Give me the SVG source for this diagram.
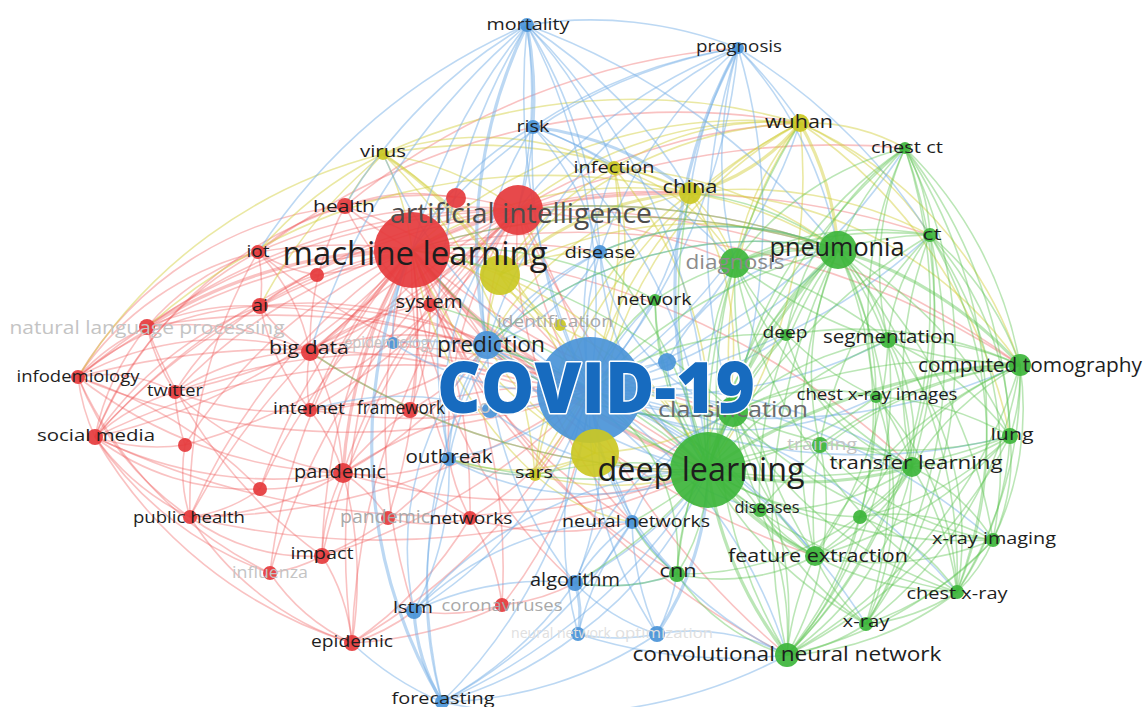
<svg xmlns="http://www.w3.org/2000/svg" width="1148" height="707" viewBox="0 0 1148 707">
<style>
#edges path{fill:none;stroke-width:1.6}
.er path{stroke:#ee5656;stroke-opacity:.36}
.eb path{stroke:#74aee6;stroke-opacity:.48}
.ey path{stroke:#d4cf3e;stroke-opacity:.48}
.eg path{stroke:#5cc452;stroke-opacity:.42}
#edges path.t{stroke-width:3.2}
.r{fill:#e53a3c}.g{fill:#3db53b}.b{fill:#4a94d8}.y{fill:#cbc823}
circle{fill-opacity:.92}
text{font-family:"Open Sans","Liberation Sans",sans-serif;text-anchor:middle;fill:#1e1e1e}
.fa{fill:#4d4d4d}.fb{fill:#6a6a6a}.fc{fill:#8c8c8c}.fd{fill:#a8a8a8}.fe{fill:#c4c4c4}.ff{fill:#e0e0e0}
.cv{font-weight:800;fill:#176bbf;stroke:#fff;stroke-width:3;paint-order:stroke;stroke-linejoin:round}
</style>
<rect width="1148" height="707" fill="#fff"/>

<g id="edges">
<!-- red cluster links -->
<g class="er">
<path d="M412 250A500 500 0 0 1 345 206"/><path d="M412 250A500 500 0 0 0 258 252"/><path d="M412 250A400 400 0 0 1 317 275"/>
<path d="M260 306A400 400 0 0 1 412 250"/><path d="M147 327A500 500 0 0 1 412 250" class="t"/><path d="M78 377A600 600 0 0 1 412 250"/>
<path d="M95 437A600 600 0 0 1 412 250"/><path d="M412 250A600 600 0 0 1 95 437"/><path d="M175 392A500 500 0 0 1 412 250"/>
<path d="M412 250A500 500 0 0 1 310 352" class="t"/><path d="M412 250A500 500 0 0 0 310 410"/><path d="M412 250A500 500 0 0 1 410 410"/>
<path d="M185 445A500 500 0 0 1 412 250"/><path d="M412 250A500 500 0 0 0 343 473" class="t"/><path d="M260 489A600 600 0 0 1 412 250"/>
<path d="M190 517A600 600 0 0 1 412 250"/><path d="M412 250A600 600 0 0 1 388 518"/><path d="M412 250A600 600 0 0 1 470 518"/>
<path d="M322 556A600 600 0 0 1 412 250"/><path d="M270 573A600 600 0 0 1 412 250"/><path d="M412 250A600 600 0 0 1 502 605"/>
<path d="M352 643A700 700 0 0 1 412 250"/><path d="M412 250A500 500 0 0 1 430 305"/><path d="M412 250A400 400 0 0 1 518 210" class="t"/>
<path d="M412 250A500 500 0 0 0 590 390" class="t"/><path d="M412 250A700 700 0 0 0 708 470" class="t"/><path d="M412 250A700 700 0 0 1 838 250"/>
<path d="M412 250A700 700 0 0 0 733 412"/><path d="M412 250A800 800 0 0 1 1020 365"/><path d="M412 250A800 800 0 0 0 787 655"/>
<path d="M412 250A800 800 0 0 0 815 556"/><path d="M412 250A800 800 0 0 1 912 467"/><path d="M412 250A600 600 0 0 1 690 193"/>
<path d="M412 250A600 600 0 0 0 414 611"/><path d="M412 250A500 500 0 0 1 487 345"/><path d="M412 250A500 500 0 0 0 449 459"/>
<path d="M412 250A600 600 0 0 1 600 252"/><path d="M412 250A500 500 0 0 0 632 522"/><path d="M412 250A500 500 0 0 0 575 583"/>
<path d="M412 250A600 600 0 0 0 677 574"/>
<path d="M345 206A300 300 0 0 1 518 210"/><path d="M258 252A500 500 0 0 1 518 210"/><path d="M260 306A500 500 0 0 1 518 210"/>
<path d="M147 327A600 600 0 0 1 518 210"/><path d="M78 377A700 700 0 0 1 518 210"/><path d="M95 437A700 700 0 0 1 518 210"/>
<path d="M518 210A700 700 0 0 1 175 392"/><path d="M518 210A600 600 0 0 1 310 352"/><path d="M343 473A600 600 0 0 1 518 210"/>
<path d="M190 517A700 700 0 0 1 518 210"/><path d="M322 556A700 700 0 0 1 518 210"/><path d="M352 643A700 700 0 0 1 518 210"/>
<path d="M270 573A700 700 0 0 1 518 210"/><path d="M518 210A600 600 0 0 1 310 410"/><path d="M518 210A600 600 0 0 1 185 445"/>
<path d="M518 210A600 600 0 0 0 260 489"/><path d="M518 210A700 700 0 0 0 708 470"/><path d="M518 210A600 600 0 0 1 590 390"/>
<path d="M518 210A700 700 0 0 1 838 250"/><path d="M518 210A500 500 0 0 1 690 193"/><path d="M518 210A600 600 0 0 1 800 123"/>
<path d="M518 210A800 800 0 0 1 930 235"/><path d="M518 210A800 800 0 0 1 905 148"/><path d="M518 210A700 700 0 0 1 735 263"/>
<path d="M518 210A800 800 0 0 0 787 655"/><path d="M518 210A800 800 0 0 1 1020 365"/><path d="M518 210A400 400 0 0 0 632 522"/>
<path d="M518 210A300 300 0 0 0 487 345"/><path d="M518 210A400 400 0 0 0 449 459"/>
<path d="M95 437A200 200 0 0 1 78 377"/><path d="M78 377A200 200 0 0 1 147 327"/><path d="M95 437A250 250 0 0 1 147 327"/>
<path d="M147 327A250 250 0 0 1 258 252"/><path d="M147 327A250 250 0 0 1 260 306"/><path d="M78 377A300 300 0 0 1 258 252"/>
<path d="M78 377A300 300 0 0 1 260 306"/><path d="M78 377A350 350 0 0 1 345 206"/><path d="M95 437A350 350 0 0 1 258 252"/>
<path d="M95 437A400 400 0 0 1 345 206"/><path d="M95 437A350 350 0 0 1 260 306"/><path d="M78 377A300 300 0 0 1 310 352"/>
<path d="M147 327A300 300 0 0 1 310 352"/><path d="M78 377A150 150 0 0 1 175 392"/><path d="M175 392A200 200 0 0 1 147 327"/>
<path d="M95 437A200 200 0 0 1 175 392"/><path d="M175 392A250 250 0 0 1 310 352"/><path d="M175 392A250 250 0 0 1 260 306"/>
<path d="M175 392A300 300 0 0 0 310 410"/><path d="M185 445A200 200 0 0 1 175 392"/><path d="M185 445A200 200 0 0 1 95 437"/>
<path d="M190 517A250 250 0 0 1 95 437"/><path d="M190 517A300 300 0 0 1 78 377"/><path d="M270 573A350 350 0 0 1 95 437"/>
<path d="M270 573A400 400 0 0 1 78 377"/><path d="M352 643A300 300 0 0 1 190 517"/><path d="M352 643A450 450 0 0 1 95 437"/>
<path d="M352 643A200 200 0 0 1 270 573"/><path d="M322 556A200 200 0 0 1 190 517"/><path d="M260 489A150 150 0 0 1 190 517"/>
<path d="M260 489A250 250 0 0 1 95 437"/><path d="M190 517A150 150 0 0 1 185 445"/><path d="M322 556A150 150 0 0 1 270 573"/>
<path d="M352 643A200 200 0 0 0 322 556"/><path d="M343 473A200 200 0 0 1 260 489"/><path d="M343 473A300 300 0 0 1 190 517"/>
<path d="M343 473A400 400 0 0 1 95 437"/><path d="M343 473A200 200 0 0 0 322 556"/><path d="M352 643A400 400 0 0 0 343 473"/>
<path d="M343 473A200 200 0 0 0 310 410"/><path d="M343 473A300 300 0 0 0 310 352"/><path d="M343 473A300 300 0 0 1 410 410"/>
<path d="M343 473A150 150 0 0 1 388 518"/><path d="M343 473A250 250 0 0 1 470 518"/><path d="M343 473A450 450 0 0 1 78 377"/>
<path d="M343 473A300 300 0 0 1 175 392"/><path d="M310 410A150 150 0 0 1 310 352"/><path d="M310 410A200 200 0 0 1 410 410"/>
<path d="M310 410A250 250 0 0 1 260 306"/><path d="M310 352A250 250 0 0 1 430 305"/><path d="M310 352A150 150 0 0 1 260 306"/>
<path d="M310 352A200 200 0 0 0 258 252"/><path d="M310 352A300 300 0 0 1 345 206"/><path d="M260 306A150 150 0 0 0 258 252"/>
<path d="M260 306A150 150 0 0 1 317 275"/><path d="M258 252A200 200 0 0 1 345 206"/><path d="M258 252A150 150 0 0 0 317 275"/>
<path d="M345 206A200 200 0 0 1 456 198"/><path d="M430 305A250 250 0 0 1 410 410"/><path d="M410 410A250 250 0 0 0 487 345"/>
<path d="M470 518A150 150 0 0 1 388 518"/><path d="M502 605A200 200 0 0 1 414 611"/><path d="M502 605A200 200 0 0 0 470 518"/>
<path d="M352 643A200 200 0 0 0 414 611"/><path d="M352 643A400 400 0 0 0 470 518"/><path d="M352 643A400 400 0 0 0 502 605"/>
<path d="M190 517A500 500 0 0 1 258 252"/><path d="M78 377A450 450 0 0 1 260 489"/><path d="M147 327A500 500 0 0 0 322 556"/>
<path d="M590 390A700 700 0 0 1 78 377"/><path d="M95 437A700 700 0 0 1 590 390"/><path d="M147 327A700 700 0 0 1 590 390"/>
<path d="M190 517A700 700 0 0 0 590 390"/><path d="M343 473A500 500 0 0 1 590 390"/><path d="M310 352A500 500 0 0 1 590 390"/>
<path d="M260 306A600 600 0 0 1 590 390"/><path d="M590 390A600 600 0 0 1 258 252"/><path d="M345 206A500 500 0 0 1 590 390"/>
<path d="M352 643A600 600 0 0 0 590 390"/><path d="M322 556A600 600 0 0 0 590 390"/><path d="M175 392A600 600 0 0 1 590 390"/>
<path d="M590 390A600 600 0 0 1 310 410"/><path d="M410 410A400 400 0 0 1 590 390"/><path d="M470 518A300 300 0 0 0 590 390"/>
<path d="M502 605A400 400 0 0 0 590 390"/><path d="M95 437A800 800 0 0 0 708 470"/><path d="M343 473A600 600 0 0 0 708 470"/>
<path d="M260 306A800 800 0 0 1 708 470"/><path d="M310 352A700 700 0 0 0 708 470"/><path d="M190 517A800 800 0 0 0 708 470"/>
<path d="M78 377A800 800 0 0 1 708 470"/><path d="M258 252A700 700 0 0 1 800 123"/><path d="M345 206A700 700 0 0 1 738 48"/>
<path d="M310 352A300 300 0 0 1 487 345"/><path d="M430 305A300 300 0 0 0 590 390"/><path d="M310 410A300 300 0 0 0 487 345"/>
<path d="M260 306A400 400 0 0 1 487 345"/><path d="M345 206A300 300 0 0 0 487 345"/><path d="M343 473A200 200 0 0 0 449 459"/>
<path d="M470 518A200 200 0 0 1 449 459"/><path d="M470 518A300 300 0 0 0 632 522"/><path d="M502 605A200 200 0 0 0 575 583"/>
<path d="M322 556A300 300 0 0 0 449 459"/><path d="M343 473A400 400 0 0 0 487 345"/>
</g>
<!-- yellow cluster links -->
<g class="ey">
<path d="M800 123A200 200 0 0 1 690 193" class="t"/><path d="M800 123A300 300 0 0 0 614 168"/><path d="M800 123A400 400 0 0 0 590 390"/>
<path d="M800 123A500 500 0 0 1 708 470"/><path d="M800 123A300 300 0 0 1 838 250" class="t"/><path d="M800 123A200 200 0 0 1 905 148"/>
<path d="M800 123A300 300 0 0 1 930 235"/><path d="M800 123A400 400 0 0 1 1020 365"/><path d="M800 123A500 500 0 0 0 412 250"/>
<path d="M800 123A400 400 0 0 0 518 210"/><path d="M383 154A600 600 0 0 1 800 123"/><path d="M800 123A500 500 0 0 0 535 475"/>
<path d="M800 123A500 500 0 0 1 1010 436"/><path d="M800 123A300 300 0 0 0 735 263"/><path d="M800 123A400 400 0 0 0 733 412"/>
<path d="M800 123A400 400 0 0 0 500 275"/><path d="M800 123A400 400 0 0 0 595 453"/>
<path d="M690 193A200 200 0 0 0 614 168"/><path d="M690 193A400 400 0 0 1 838 250"/><path d="M690 193A400 400 0 0 1 930 235"/>
<path d="M690 193A400 400 0 0 1 1020 365"/><path d="M690 193A300 300 0 0 1 708 470"/><path d="M690 193A400 400 0 0 0 535 475"/>
<path d="M690 193A400 400 0 0 0 412 250"/><path d="M690 193A500 500 0 0 0 383 154"/><path d="M690 193A300 300 0 0 0 500 275" class="t"/>
<path d="M383 154A300 300 0 0 1 614 168"/><path d="M383 154A300 300 0 0 1 412 250"/><path d="M383 154A300 300 0 0 1 518 210"/>
<path d="M383 154A200 200 0 0 0 345 206"/><path d="M383 154A400 400 0 0 0 258 252"/><path d="M383 154A500 500 0 0 0 260 306"/>
<path d="M383 154A500 500 0 0 1 535 475"/><path d="M383 154A400 400 0 0 1 500 275" class="t"/><path d="M383 154A500 500 0 0 1 595 453"/>
<path d="M78 377A500 500 0 0 1 383 154"/><path d="M147 327A600 600 0 0 1 690 193"/>
<path d="M614 168A300 300 0 0 1 590 390"/><path d="M614 168A400 400 0 0 1 535 475"/><path d="M614 168A400 400 0 0 1 708 470"/>
<path d="M614 168A400 400 0 0 1 838 250"/><path d="M614 168A300 300 0 0 0 500 275"/>
<path d="M500 275A300 300 0 0 1 590 390"/><path d="M500 275A400 400 0 0 1 708 470"/><path d="M500 275A300 300 0 0 0 412 250"/>
<path d="M500 275A400 400 0 0 1 838 250"/><path d="M595 453A200 200 0 0 0 708 470"/><path d="M595 453A300 300 0 0 1 535 475"/>
<path d="M595 453A400 400 0 0 1 412 250"/><path d="M535 475A300 300 0 0 1 590 390"/><path d="M535 475A400 400 0 0 1 412 250"/>
<path d="M535 475A300 300 0 0 0 708 470"/><path d="M548 322A300 300 0 0 1 708 470"/><path d="M548 322A300 300 0 0 0 412 250"/>
<path d="M500 275A200 200 0 0 0 487 345"/><path d="M595 453A300 300 0 0 1 487 345"/><path d="M595 453A200 200 0 0 1 449 459"/>
<path d="M535 475A200 200 0 0 1 449 459"/><path d="M535 475A200 200 0 0 0 632 522"/><path d="M500 275A200 200 0 0 1 600 252"/>
<path d="M500 275A300 300 0 0 0 733 412"/><path d="M595 453A300 300 0 0 0 733 412"/><path d="M690 193A300 300 0 0 0 487 345"/>
<path d="M690 193A200 200 0 0 1 735 263"/><path d="M614 168A200 200 0 0 1 735 263"/>
</g>
<!-- blue cluster links -->
<g class="eb">
<path d="M590 390A400 400 0 0 1 487 345"/><path d="M590 390A300 300 0 0 1 490 410"/><path d="M590 390A200 200 0 0 1 667 362"/>
<path d="M590 390A300 300 0 0 1 449 459"/><path d="M590 390A300 300 0 0 1 600 252"/><path d="M590 390A500 500 0 0 1 533 127"/>
<path d="M527 25A600 600 0 0 1 590 390"/><path d="M590 390A700 700 0 0 1 527 25"/><path d="M738 48A600 600 0 0 1 590 390"/>
<path d="M590 390A300 300 0 0 0 632 522"/><path d="M590 390A300 300 0 0 1 575 583"/><path d="M590 390A400 400 0 0 1 414 611"/>
<path d="M590 390A500 500 0 0 1 442 702"/><path d="M590 390A400 400 0 0 0 578 634"/><path d="M590 390A400 400 0 0 0 657 634"/>
<path d="M590 390A300 300 0 0 1 393 343"/><path d="M590 390A500 500 0 0 0 838 250"/><path d="M590 390A600 600 0 0 0 1020 365"/>
<path d="M590 390A500 500 0 0 1 912 467"/><path d="M590 390A500 500 0 0 1 815 556"/><path d="M590 390A500 500 0 0 1 787 655"/>
<path d="M590 390A600 600 0 0 1 866 624"/><path d="M590 390A600 600 0 0 1 957 592"/><path d="M590 390A600 600 0 0 1 993 540"/>
<path d="M590 390A600 600 0 0 0 1010 436"/><path d="M590 390A500 500 0 0 0 888 340"/><path d="M590 390A600 600 0 0 0 930 235"/>
<path d="M590 390A600 600 0 0 0 905 148"/><path d="M590 390A500 500 0 0 0 800 123"/><path d="M590 390A400 400 0 0 0 690 193"/>
<path d="M590 390A400 400 0 0 1 614 168"/><path d="M590 390A500 500 0 0 1 383 154"/><path d="M590 390A300 300 0 0 0 677 574"/>
<path d="M590 390A300 300 0 0 0 760 510"/><path d="M590 390A300 300 0 0 0 733 412"/><path d="M590 390A300 300 0 0 0 786 335"/>
<path d="M590 390A300 300 0 0 0 876 397"/><path d="M590 390A300 300 0 0 0 735 263"/><path d="M590 390A300 300 0 0 1 655 300"/>
<path d="M527 25A400 400 0 0 1 533 127" class="t"/><path d="M527 25A500 500 0 0 0 487 345" class="t"/><path d="M527 25A600 600 0 0 0 412 250"/>
<path d="M527 25A500 500 0 0 1 518 210"/><path d="M527 25A500 500 0 0 1 600 252"/><path d="M527 25A600 600 0 0 1 708 470"/>
<path d="M527 25A400 400 0 0 1 738 48"/><path d="M527 25A400 400 0 0 1 614 168"/><path d="M527 25A500 500 0 0 1 690 193"/>
<path d="M527 25A600 600 0 0 0 449 459"/><path d="M527 25A500 500 0 0 0 345 206"/><path d="M527 25A600 600 0 0 0 258 252"/>
<path d="M527 25A700 700 0 0 0 310 352"/><path d="M527 25A700 700 0 0 1 838 250"/>
<path d="M738 48A500 500 0 0 0 533 127"/><path d="M738 48A500 500 0 0 0 487 345"/><path d="M738 48A500 500 0 0 0 600 252"/>
<path d="M738 48A400 400 0 0 0 690 193"/><path d="M738 48A500 500 0 0 0 708 470" class="t"/><path d="M738 48A600 600 0 0 1 708 470"/>
<path d="M738 48A400 400 0 0 1 838 250"/><path d="M738 48A400 400 0 0 0 735 263"/><path d="M738 48A500 500 0 0 1 800 123"/>
<path d="M738 48A500 500 0 0 0 412 250"/><path d="M738 48A500 500 0 0 0 518 210"/><path d="M738 48A600 600 0 0 1 930 235"/>
<path d="M738 48A600 600 0 0 0 733 412"/>
<path d="M533 127A300 300 0 0 0 487 345"/><path d="M533 127A300 300 0 0 1 600 252"/><path d="M533 127A300 300 0 0 1 614 168"/>
<path d="M533 127A300 300 0 0 1 690 193" class="t"/><path d="M533 127A300 300 0 0 0 412 250"/><path d="M533 127A300 300 0 0 1 518 210"/>
<path d="M533 127A500 500 0 0 1 708 470"/><path d="M533 127A500 500 0 0 1 735 263"/>
<path d="M442 702A200 200 0 0 1 414 611" class="t"/><path d="M414 611A300 300 0 0 1 575 583"/><path d="M414 611A300 300 0 0 1 487 345"/>
<path d="M414 611A300 300 0 0 1 632 522"/><path d="M414 611A300 300 0 0 0 449 459"/><path d="M414 611A400 400 0 0 1 708 470"/>
<path d="M442 702A400 400 0 0 0 575 583"/><path d="M442 702A400 400 0 0 0 578 634"/><path d="M442 702A400 400 0 0 0 657 634"/>
<path d="M442 702A500 500 0 0 0 632 522"/><path d="M442 702A500 500 0 0 1 412 250" class="t"/><path d="M442 702A500 500 0 0 1 487 345"/>
<path d="M442 702A600 600 0 0 0 708 470"/><path d="M442 702A400 400 0 0 1 449 459"/><path d="M442 702A500 500 0 0 0 787 655"/>
<path d="M442 702A300 300 0 0 1 352 643"/>
<path d="M575 583A200 200 0 0 1 632 522"/><path d="M575 583A100 100 0 0 1 578 634" class="t"/><path d="M575 583A200 200 0 0 0 657 634"/>
<path d="M575 583A200 200 0 0 0 677 574"/><path d="M575 583A400 400 0 0 1 487 345"/><path d="M575 583A400 400 0 0 0 708 470"/>
<path d="M578 634A200 200 0 0 0 657 634"/><path d="M578 634A300 300 0 0 1 632 522"/><path d="M578 634A400 400 0 0 0 708 470"/>
<path d="M578 634A500 500 0 0 0 787 655"/><path d="M657 634A200 200 0 0 0 677 574"/><path d="M657 634A300 300 0 0 0 708 470" class="t"/>
<path d="M657 634A200 200 0 0 1 787 655"/><path d="M657 634A300 300 0 0 1 632 522"/><path d="M632 522A200 200 0 0 0 677 574"/>
<path d="M632 522A400 400 0 0 0 787 655"/><path d="M632 522A300 300 0 0 0 487 345"/><path d="M449 459A200 200 0 0 1 487 345"/>
<path d="M449 459A300 300 0 0 1 600 252"/><path d="M449 459A300 300 0 0 1 518 210"/><path d="M600 252A200 200 0 0 1 487 345"/>
<path d="M487 345A300 300 0 0 1 600 252"/><path d="M393 343A300 300 0 0 1 590 390"/><path d="M490 410A300 300 0 0 0 310 410"/>
<path d="M487 345A400 400 0 0 0 708 470"/><path d="M487 345A300 300 0 0 0 733 412"/><path d="M487 345A400 400 0 0 1 838 250"/>
<path d="M449 459A300 300 0 0 0 708 470"/><path d="M449 459A200 200 0 0 0 535 475"/><path d="M632 522A200 200 0 0 1 733 412"/>
<path d="M575 583A300 300 0 0 1 733 412"/><path d="M600 252A300 300 0 0 0 708 470"/><path d="M600 252A300 300 0 0 1 838 250"/>
<path d="M600 252A200 200 0 0 0 733 412"/><path d="M667 362A200 200 0 0 0 708 470"/><path d="M667 362A200 200 0 0 1 838 250"/>
<path d="M490 410A300 300 0 0 0 708 470"/><path d="M393 343A200 200 0 0 1 412 250"/>
</g>
<!-- green cluster links -->
<g class="eg">
<path d="M708 470A500 500 0 0 1 838 250" class="t"/><path d="M708 470A400 400 0 0 1 735 263"/><path d="M708 470A300 300 0 0 1 655 300"/>
<path d="M708 470A200 200 0 0 1 733 412" class="t"/><path d="M708 470A600 600 0 0 1 930 235"/><path d="M708 470A600 600 0 0 1 905 148"/>
<path d="M708 470A400 400 0 0 1 786 335"/><path d="M708 470A500 500 0 0 1 888 340"/><path d="M708 470A600 600 0 0 1 1020 365" class="t"/>
<path d="M708 470A400 400 0 0 0 876 397"/><path d="M708 470A600 600 0 0 0 1010 436"/><path d="M708 470A300 300 0 0 1 820 445"/>
<path d="M708 470A400 400 0 0 0 912 467" class="t"/><path d="M708 470A200 200 0 0 0 760 510"/><path d="M708 470A300 300 0 0 0 860 517"/>
<path d="M708 470A500 500 0 0 0 993 540"/><path d="M708 470A300 300 0 0 0 815 556" class="t"/><path d="M708 470A200 200 0 0 1 677 574"/>
<path d="M708 470A500 500 0 0 0 957 592"/><path d="M708 470A400 400 0 0 0 866 624"/><path d="M708 470A400 400 0 0 0 787 655" class="t"/>
<path d="M708 470A300 300 0 0 1 590 390"/><path d="M708 470A600 600 0 0 1 800 123"/><path d="M708 470A500 500 0 0 1 690 193"/>
<path d="M708 470A400 400 0 0 1 632 522"/><path d="M708 470A400 400 0 0 0 535 475"/><path d="M708 470A800 800 0 0 1 412 250"/>
<path d="M708 470A600 600 0 0 0 487 345"/><path d="M708 470A600 600 0 0 1 449 459"/><path d="M708 470A500 500 0 0 1 575 583"/>
<path d="M708 470A500 500 0 0 0 600 252"/><path d="M708 470A600 600 0 0 0 430 305"/><path d="M708 470A700 700 0 0 1 310 352"/>
<path d="M838 250A300 300 0 0 1 930 235"/><path d="M838 250A300 300 0 0 1 905 148"/><path d="M838 250A200 200 0 0 0 786 335"/>
<path d="M838 250A200 200 0 0 1 888 340"/><path d="M838 250A400 400 0 0 1 1020 365" class="t"/><path d="M838 250A300 300 0 0 1 876 397"/>
<path d="M838 250A400 400 0 0 1 1010 436"/><path d="M838 250A300 300 0 0 0 820 445"/><path d="M838 250A400 400 0 0 1 912 467"/>
<path d="M838 250A400 400 0 0 0 760 510"/><path d="M838 250A400 400 0 0 1 860 517"/><path d="M838 250A500 500 0 0 1 993 540"/>
<path d="M838 250A500 500 0 0 0 815 556"/><path d="M838 250A500 500 0 0 0 677 574"/><path d="M838 250A500 500 0 0 1 957 592"/>
<path d="M838 250A500 500 0 0 1 866 624"/><path d="M838 250A600 600 0 0 0 787 655"/><path d="M838 250A300 300 0 0 0 733 412"/>
<path d="M838 250A200 200 0 0 0 735 263"/><path d="M838 250A300 300 0 0 0 655 300"/><path d="M838 250A300 300 0 0 0 690 193"/>
<path d="M838 250A500 500 0 0 0 590 390"/><path d="M838 250A700 700 0 0 0 518 210"/><path d="M838 250A700 700 0 0 0 412 250"/>
<path d="M838 250A400 400 0 0 0 487 345"/><path d="M838 250A300 300 0 0 0 600 252"/>
<path d="M930 235A300 300 0 0 1 1020 365"/><path d="M905 148A400 400 0 0 1 1020 365"/><path d="M1020 365A200 200 0 0 1 1010 436"/>
<path d="M1020 365A300 300 0 0 1 993 540"/><path d="M1020 365A400 400 0 0 1 957 592"/><path d="M1020 365A400 400 0 0 1 866 624"/>
<path d="M1020 365A500 500 0 0 1 787 655"/><path d="M1020 365A300 300 0 0 0 888 340"/><path d="M1020 365A300 300 0 0 0 876 397"/>
<path d="M1020 365A300 300 0 0 0 912 467"/><path d="M1020 365A400 400 0 0 0 815 556"/><path d="M1020 365A300 300 0 0 0 860 517"/>
<path d="M1020 365A400 400 0 0 0 786 335"/><path d="M1020 365A400 400 0 0 0 820 445"/><path d="M1020 365A400 400 0 0 0 760 510"/>
<path d="M1020 365A500 500 0 0 0 733 412"/><path d="M1020 365A500 500 0 0 1 735 263"/>
<path d="M905 148A200 200 0 0 1 930 235"/><path d="M930 235A300 300 0 0 1 1010 436"/><path d="M930 235A400 400 0 0 1 957 592"/>
<path d="M930 235A400 400 0 0 1 993 540"/><path d="M930 235A400 400 0 0 0 912 467"/><path d="M930 235A200 200 0 0 0 888 340"/>
<path d="M930 235A500 500 0 0 1 787 655"/><path d="M930 235A400 400 0 0 0 815 556"/><path d="M930 235A500 500 0 0 1 866 624"/>
<path d="M930 235A400 400 0 0 0 735 263"/>
<path d="M905 148A300 300 0 0 0 888 340"/><path d="M905 148A500 500 0 0 1 1010 436"/><path d="M905 148A500 500 0 0 1 912 467"/>
<path d="M905 148A500 500 0 0 1 957 592"/><path d="M905 148A400 400 0 0 0 733 412"/><path d="M905 148A300 300 0 0 0 735 263"/>
<path d="M905 148A300 300 0 0 0 786 335"/><path d="M905 148A400 400 0 0 0 876 397"/><path d="M905 148A450 450 0 0 1 866 624"/>
<path d="M905 148A500 500 0 0 1 787 655"/>
<path d="M912 467A300 300 0 0 1 957 592"/><path d="M912 467A200 200 0 0 1 993 540"/><path d="M912 467A300 300 0 0 1 866 624"/>
<path d="M912 467A200 200 0 0 1 815 556"/><path d="M912 467A300 300 0 0 1 787 655"/><path d="M1010 436A200 200 0 0 1 912 467"/>
<path d="M912 467A300 300 0 0 1 677 574"/><path d="M912 467A200 200 0 0 0 876 397"/><path d="M912 467A200 200 0 0 0 888 340"/>
<path d="M912 467A150 150 0 0 1 860 517"/><path d="M912 467A200 200 0 0 0 820 445"/><path d="M912 467A250 250 0 0 1 760 510"/>
<path d="M957 592A300 300 0 0 1 787 655"/><path d="M866 624A200 200 0 0 1 787 655"/><path d="M993 540A400 400 0 0 1 787 655"/>
<path d="M1010 436A500 500 0 0 1 787 655"/><path d="M787 655A300 300 0 0 1 815 556"/><path d="M787 655A200 200 0 0 1 677 574"/>
<path d="M787 655A300 300 0 0 0 760 510"/><path d="M787 655A300 300 0 0 0 860 517"/><path d="M787 655A400 400 0 0 0 876 397"/>
<path d="M787 655A400 400 0 0 0 733 412"/><path d="M787 655A300 300 0 0 0 820 445"/><path d="M787 655A400 400 0 0 0 888 340"/>
<path d="M815 556A200 200 0 0 0 866 624"/><path d="M815 556A300 300 0 0 0 957 592"/><path d="M815 556A300 300 0 0 0 993 540"/>
<path d="M815 556A200 200 0 0 1 677 574"/><path d="M815 556A200 200 0 0 0 860 517"/><path d="M815 556A200 200 0 0 1 760 510"/>
<path d="M815 556A400 400 0 0 0 1010 436"/><path d="M815 556A400 400 0 0 0 888 340"/>
<path d="M957 592A200 200 0 0 1 866 624"/><path d="M993 540A150 150 0 0 1 957 592"/><path d="M1010 436A300 300 0 0 1 957 592"/>
<path d="M957 592A200 200 0 0 0 860 517"/><path d="M957 592A300 300 0 0 0 876 397"/><path d="M1010 436A200 200 0 0 1 993 540"/>
<path d="M993 540A300 300 0 0 1 866 624"/><path d="M993 540A200 200 0 0 0 860 517"/><path d="M1010 436A300 300 0 0 0 888 340"/>
<path d="M1010 436A300 300 0 0 0 876 397"/><path d="M1010 436A300 300 0 0 1 860 517"/>
<path d="M733 412A300 300 0 0 1 888 340"/><path d="M733 412A200 200 0 0 1 876 397"/><path d="M733 412A400 400 0 0 0 1010 436"/>
<path d="M733 412A300 300 0 0 0 815 556"/><path d="M733 412A300 300 0 0 0 677 574"/><path d="M733 412A300 300 0 0 0 866 624"/>
<path d="M733 412A400 400 0 0 0 993 540"/><path d="M733 412A400 400 0 0 0 957 592"/><path d="M733 412A200 200 0 0 1 786 335"/>
<path d="M733 412A600 600 0 0 0 412 250"/><path d="M733 412A300 300 0 0 1 487 345"/>
<path d="M735 263A400 400 0 0 0 912 467"/><path d="M735 263A300 300 0 0 0 876 397"/><path d="M735 263A400 400 0 0 1 888 340"/>
<path d="M735 263A500 500 0 0 0 815 556"/><path d="M735 263A500 500 0 0 0 957 592"/><path d="M735 263A500 500 0 0 0 787 655"/>
<path d="M735 263A300 300 0 0 1 930 235"/><path d="M786 335A200 200 0 0 0 912 467"/><path d="M888 340A300 300 0 0 1 957 592"/>
<path d="M876 397A300 300 0 0 1 866 624"/><path d="M820 445A300 300 0 0 0 993 540"/><path d="M655 300A300 300 0 0 0 815 556"/>
<path d="M655 300A200 200 0 0 0 590 390"/><path d="M655 300A400 400 0 0 0 412 250"/><path d="M786 335A300 300 0 0 0 590 390"/>
<path d="M677 574A200 200 0 0 0 590 390"/><path d="M760 510A300 300 0 0 0 590 390"/><path d="M677 574A150 150 0 0 1 632 522"/>
<path d="M677 574A200 200 0 0 1 575 583"/>
</g>
</g>

<g id="nodes">
<g id="n-covid-19"><circle class="b" cx="590" cy="390" r="53" fill-opacity=".85"/></g>
<g id="n-y2"><circle class="y" cx="595" cy="453" r="24"/></g>
<g id="n-y1"><circle class="y" cx="500" cy="275" r="20"/></g>
<g id="n-machine-learning"><circle class="r" cx="412" cy="250" r="38"/><text x="415" y="265" font-size="33" textLength="265" lengthAdjust="spacingAndGlyphs">machine learning</text></g>
<g id="n-deep-learning"><circle class="g" cx="708" cy="470" r="38"/><text x="701" y="481" font-size="32" textLength="207" lengthAdjust="spacingAndGlyphs">deep learning</text></g>
<g id="n-artificial-intelligence"><circle class="r" cx="518" cy="210" r="25"/><text class="fa" x="521" y="223" font-size="27" textLength="262" lengthAdjust="spacingAndGlyphs">artificial intelligence</text></g>
<g id="n-pneumonia"><circle class="g" cx="838" cy="250" r="19"/><text x="837" y="256" font-size="25" textLength="135" lengthAdjust="spacingAndGlyphs">pneumonia</text></g>
<g id="n-classification"><circle class="g" cx="733" cy="412" r="15"/><text class="fb" x="733" y="417" font-size="22" textLength="150" lengthAdjust="spacingAndGlyphs">classification</text></g>
<g id="n-diagnosis"><circle class="g" cx="735" cy="263" r="15"/><text class="fc" x="735" y="269" font-size="20" textLength="99" lengthAdjust="spacingAndGlyphs">diagnosis</text></g>
<g id="n-prediction"><circle class="b" cx="487" cy="345" r="14"/><text x="491" y="352" font-size="22" textLength="108" lengthAdjust="spacingAndGlyphs">prediction</text></g>
<g id="n-convolutional-neural-network"><circle class="g" cx="787" cy="655" r="12"/><text x="787" y="661" font-size="20" textLength="309" lengthAdjust="spacingAndGlyphs">convolutional neural network</text></g>
<g id="n-china"><circle class="y" cx="690" cy="193" r="11"/><text x="690" y="193" font-size="18" textLength="55" lengthAdjust="spacingAndGlyphs">china</text></g>
<g id="n-computed-tomography"><circle class="g" cx="1020" cy="365" r="11"/><text x="1030" y="372" font-size="20" textLength="224" lengthAdjust="spacingAndGlyphs">computed tomography</text></g>
<g id="n-r1"><circle class="r" cx="456" cy="198" r="10"/></g>
<g id="n-pandemic"><circle class="r" cx="343" cy="473" r="10"/><text x="340" y="478" font-size="19" textLength="92" lengthAdjust="spacingAndGlyphs">pandemic</text></g>
<g id="n-transfer-learning"><circle class="g" cx="912" cy="467" r="10"/><text x="916" y="469" font-size="18" textLength="173" lengthAdjust="spacingAndGlyphs">transfer learning</text></g>
<g id="n-feature-extraction"><circle class="g" cx="815" cy="556" r="10"/><text x="818" y="562" font-size="18" textLength="180" lengthAdjust="spacingAndGlyphs">feature extraction</text></g>
<g id="n-wuhan"><circle class="y" cx="800" cy="123" r="9"/><text x="799" y="128" font-size="19" textLength="68" lengthAdjust="spacingAndGlyphs">wuhan</text></g>
<g id="n-b1"><circle class="b" cx="667" cy="362" r="9"/></g>
<g id="n-big-data"><circle class="r" cx="310" cy="352" r="9"/><text x="309" y="354" font-size="18" textLength="80" lengthAdjust="spacingAndGlyphs">big data</text></g>
<g id="n-health"><circle class="r" cx="345" cy="206" r="8"/><text x="344" y="212" font-size="17" textLength="62" lengthAdjust="spacingAndGlyphs">health</text></g>
<g id="n-iot"><circle class="r" cx="258" cy="252" r="7"/><text x="258" y="257" font-size="17" textLength="23" lengthAdjust="spacingAndGlyphs">iot</text></g>
<g id="n-r2"><circle class="r" cx="317" cy="275" r="7"/></g>
<g id="n-ai"><circle class="r" cx="260" cy="306" r="8"/><text x="260" y="311" font-size="17" textLength="16" lengthAdjust="spacingAndGlyphs">ai</text></g>
<g id="n-natural-language-processing"><circle class="r" cx="147" cy="327" r="8"/><text class="fe" x="147" y="334" font-size="19" textLength="275" lengthAdjust="spacingAndGlyphs">natural language processing</text></g>
<g id="n-system"><circle class="r" cx="430" cy="305" r="7"/><text x="429" y="308" font-size="18" textLength="67" lengthAdjust="spacingAndGlyphs">system</text></g>
<g id="n-epidemiology"><circle class="b" cx="393" cy="343" r="6"/><text class="fe" x="390" y="348" font-size="16" textLength="92" lengthAdjust="spacingAndGlyphs">epidemiology</text></g>
<g id="n-infodemiology"><circle class="r" cx="78" cy="377" r="7"/><text x="78" y="382" font-size="17" textLength="123" lengthAdjust="spacingAndGlyphs">infodemiology</text></g>
<g id="n-twitter"><circle class="r" cx="175" cy="392" r="7"/><text x="175" y="396" font-size="17" textLength="56" lengthAdjust="spacingAndGlyphs">twitter</text></g>
<g id="n-internet"><circle class="r" cx="310" cy="410" r="7"/><text x="309" y="414" font-size="17" textLength="72" lengthAdjust="spacingAndGlyphs">internet</text></g>
<g id="n-framework"><circle class="r" cx="410" cy="410" r="8"/><text x="401" y="414" font-size="18" textLength="88" lengthAdjust="spacingAndGlyphs">framework</text></g>
<g id="n-social-media"><circle class="r" cx="95" cy="437" r="8"/><text x="96" y="441" font-size="17" textLength="118" lengthAdjust="spacingAndGlyphs">social media</text></g>
<g id="n-r3"><circle class="r" cx="185" cy="445" r="7"/></g>
<g id="n-r4"><circle class="r" cx="260" cy="489" r="7"/></g>
<g id="n-public-health"><circle class="r" cx="190" cy="517" r="7"/><text x="189" y="523" font-size="16" textLength="112" lengthAdjust="spacingAndGlyphs">public health</text></g>
<g id="n-pandemic-2"><circle class="r" cx="388" cy="518" r="7"/><text class="fd" x="385" y="523" font-size="18" textLength="90" lengthAdjust="spacingAndGlyphs">pandemic</text></g>
<g id="n-networks"><circle class="r" cx="470" cy="518" r="7"/><text x="471" y="524" font-size="17" textLength="83" lengthAdjust="spacingAndGlyphs">networks</text></g>
<g id="n-impact"><circle class="r" cx="322" cy="556" r="8"/><text x="322" y="559" font-size="17" textLength="63" lengthAdjust="spacingAndGlyphs">impact</text></g>
<g id="n-influenza"><circle class="r" cx="270" cy="573" r="7"/><text class="fe" x="270" y="578" font-size="16" textLength="76" lengthAdjust="spacingAndGlyphs">influenza</text></g>
<g id="n-coronaviruses"><circle class="r" cx="502" cy="605" r="7"/><text class="fd" x="502" y="611" font-size="17" textLength="121" lengthAdjust="spacingAndGlyphs">coronaviruses</text></g>
<g id="n-epidemic"><circle class="r" cx="352" cy="643" r="8"/><text x="352" y="647" font-size="17" textLength="82" lengthAdjust="spacingAndGlyphs">epidemic</text></g>
<g id="n-model"><circle class="b" cx="490" cy="410" r="8"/><text class="fe" x="490" y="413" font-size="18" textLength="60" lengthAdjust="spacingAndGlyphs">model</text></g>
<g id="n-outbreak"><circle class="b" cx="449" cy="459" r="7"/><text x="449" y="463" font-size="18" textLength="87" lengthAdjust="spacingAndGlyphs">outbreak</text></g>
<g id="n-disease"><circle class="b" cx="600" cy="252" r="7"/><text x="600" y="258" font-size="17" textLength="71" lengthAdjust="spacingAndGlyphs">disease</text></g>
<g id="n-risk"><circle class="b" cx="533" cy="127" r="7"/><text x="533" y="132" font-size="17" textLength="33" lengthAdjust="spacingAndGlyphs">risk</text></g>
<g id="n-mortality"><circle class="b" cx="527" cy="25" r="7"/><text x="528" y="30" font-size="17" textLength="83" lengthAdjust="spacingAndGlyphs">mortality</text></g>
<g id="n-prognosis"><circle class="b" cx="738" cy="48" r="6"/><text x="739" y="52" font-size="16" textLength="86" lengthAdjust="spacingAndGlyphs">prognosis</text></g>
<g id="n-neural-networks"><circle class="b" cx="632" cy="522" r="7"/><text x="636" y="527" font-size="17" textLength="148" lengthAdjust="spacingAndGlyphs">neural networks</text></g>
<g id="n-algorithm"><circle class="b" cx="575" cy="583" r="8"/><text x="575" y="586" font-size="18" textLength="90" lengthAdjust="spacingAndGlyphs">algorithm</text></g>
<g id="n-lstm"><circle class="b" cx="414" cy="611" r="8"/><text x="413" y="613" font-size="17" textLength="40" lengthAdjust="spacingAndGlyphs">lstm</text></g>
<g id="n-forecasting"><circle class="b" cx="442" cy="702" r="7"/><text x="443" y="704" font-size="17" textLength="103" lengthAdjust="spacingAndGlyphs">forecasting</text></g>
<g id="n-neural-network"><circle class="b" cx="578" cy="634" r="7"/><text class="ff" x="561" y="638" font-size="15" textLength="100" lengthAdjust="spacingAndGlyphs">neural network</text></g>
<g id="n-optimization"><circle class="b" cx="657" cy="634" r="8"/><text class="ff" x="664" y="638" font-size="15" textLength="98" lengthAdjust="spacingAndGlyphs">optimization</text></g>
<g id="n-virus"><circle class="y" cx="383" cy="154" r="6"/><text x="383" y="157" font-size="16" textLength="46" lengthAdjust="spacingAndGlyphs">virus</text></g>
<g id="n-infection"><circle class="y" cx="614" cy="168" r="7"/><text x="614" y="173" font-size="17" textLength="81" lengthAdjust="spacingAndGlyphs">infection</text></g>
<g id="n-sars"><circle class="y" cx="535" cy="475" r="6"/><text x="534" y="478" font-size="17" textLength="38" lengthAdjust="spacingAndGlyphs">sars</text></g>
<g id="n-identification"><circle class="y" cx="560" cy="325" r="6" fill-opacity=".6"/><text class="fd" x="555" y="327" font-size="17" textLength="116" lengthAdjust="spacingAndGlyphs">identification</text></g>
<g id="n-network"><circle class="g" cx="655" cy="300" r="6"/><text x="654" y="305" font-size="17" textLength="75" lengthAdjust="spacingAndGlyphs">network</text></g>
<g id="n-ct"><circle class="g" cx="930" cy="235" r="7"/><text x="932" y="240" font-size="17" textLength="19" lengthAdjust="spacingAndGlyphs">ct</text></g>
<g id="n-chest-ct"><circle class="g" cx="905" cy="148" r="6"/><text x="907" y="153" font-size="16" textLength="72" lengthAdjust="spacingAndGlyphs">chest ct</text></g>
<g id="n-deep"><circle class="g" cx="786" cy="335" r="6"/><text x="785" y="338" font-size="17" textLength="45" lengthAdjust="spacingAndGlyphs">deep</text></g>
<g id="n-segmentation"><circle class="g" cx="888" cy="340" r="8"/><text x="889" y="343" font-size="18" textLength="132" lengthAdjust="spacingAndGlyphs">segmentation</text></g>
<g id="n-chest-x-ray-images"><circle class="g" cx="876" cy="397" r="6"/><text x="877" y="400" font-size="16" textLength="161" lengthAdjust="spacingAndGlyphs">chest x-ray images</text></g>
<g id="n-lung"><circle class="g" cx="1010" cy="436" r="8"/><text x="1012" y="440" font-size="17" textLength="43" lengthAdjust="spacingAndGlyphs">lung</text></g>
<g id="n-training"><circle class="g" cx="820" cy="445" r="8"/><text class="fe" x="822" y="450" font-size="16" textLength="70" lengthAdjust="spacingAndGlyphs">training</text></g>
<g id="n-diseases"><circle class="g" cx="760" cy="510" r="7"/><text x="767" y="513" font-size="17" textLength="65" lengthAdjust="spacingAndGlyphs">diseases</text></g>
<g id="n-g1"><circle class="g" cx="860" cy="517" r="7"/></g>
<g id="n-x-ray-imaging"><circle class="g" cx="993" cy="540" r="7"/><text x="994" y="544" font-size="16" textLength="124" lengthAdjust="spacingAndGlyphs">x-ray imaging</text></g>
<g id="n-cnn"><circle class="g" cx="677" cy="574" r="8"/><text x="678" y="577" font-size="18" textLength="37" lengthAdjust="spacingAndGlyphs">cnn</text></g>
<g id="n-chest-x-ray"><circle class="g" cx="957" cy="592" r="7"/><text x="957" y="599" font-size="16" textLength="101" lengthAdjust="spacingAndGlyphs">chest x-ray</text></g>
<g id="n-x-ray"><circle class="g" cx="866" cy="624" r="7"/><text x="866" y="627" font-size="16" textLength="47" lengthAdjust="spacingAndGlyphs">x-ray</text></g>
<g id="n-covid-19-label"><text class="cv" x="596" y="413" font-size="70" textLength="318" lengthAdjust="spacingAndGlyphs">COVID-19</text></g>
</g>
</svg>
